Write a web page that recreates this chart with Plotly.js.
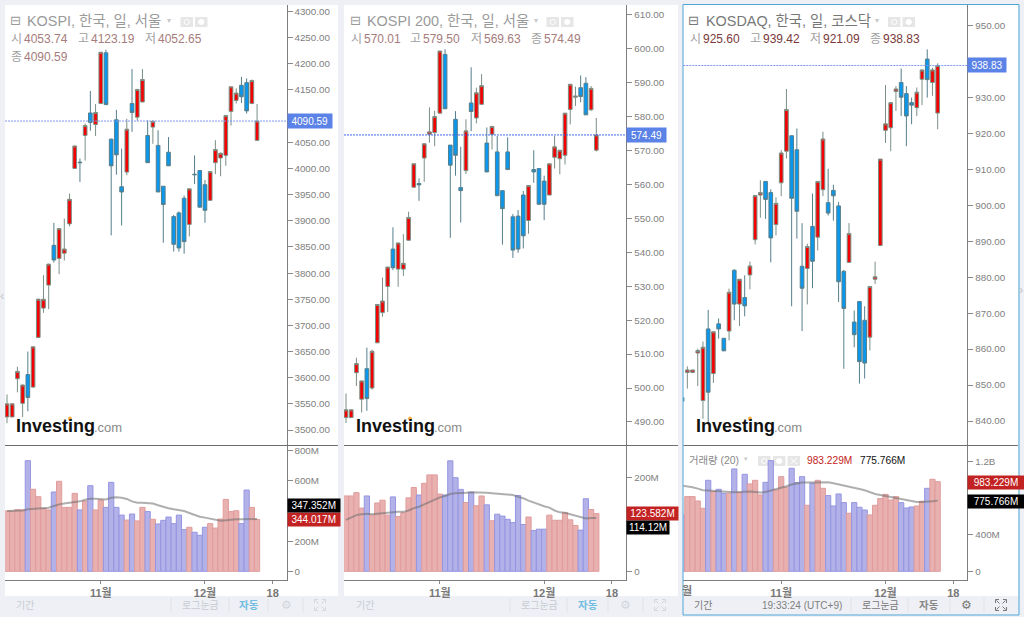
<!DOCTYPE html>
<html><head><meta charset="utf-8">
<script src="https://cdn.plot.ly/plotly-3.0.1.min.js"></script>
<style>html,body{margin:0;padding:0;background:#eef0f5;overflow:hidden}#c{width:1024px;height:617px}</style>
</head><body><div id="c"></div>
<script>
// ---------- KOSPI ----------
const kospiIdx = Array.from({length:49},(_,i)=>i+1);
const kospiOpen = [3525,3525,3598,3551,3606,3582,3677,3733,3777,3853,3828,3838,3894,4000,4012,4063,4106,4084,4124,4221,4056,4093,3965,3993,4124,4098,4127,4063,4079,4044,3966,4031,3908,3915,3943,3893,3989,3996,3969,3939,4011,4020,4025,4109,4130,4159,4164,4124,4053.74];
const kospiHigh = [3568,3551,3621,3587,3650,3660,3751,3796,3818,3896,3886,3904,3952,4043,4019,4086,4148,4123,4222,4227,4057,4112,4038,4095,4190,4152,4190,4092,4092,4073,3966,4060,3911,3918,3948,3961,4025,3997,3978,3994,4054,4030,4101,4156,4153,4175,4172,4170,4123.19];
const kospiLow = [3513,3525,3572,3525,3536,3581,3677,3724,3731,3820,3798,3824,3889,4000,3974,4015,4072,4062,4124,4122,3872,3988,3891,3987,4070,4091,4127,4011,4047,3955,3858,4005,3841,3841,3837,3870,3970,3925,3896,3939,3989,3985,4005,4082,4124,4125,4105,4123,4052.65];
const kospiClose = [3550,3550,3612,3586,3562,3659,3750,3750,3817,3825,3885,3846,3941,4043,4011,4082,4088,4107,4222,4122,4005,4026,3955,4075,4107,4151,4170,4011,4090,3955,3931,4005,3855,3848,3860,3961,3988,3926,3920,3994,4036,4029,4101,4156,4144,4137,4110,4168,4090.59];
const kospiVol = [400,400,409,407,734,544,495,418,407,526,597,424,424,517,407,466,568,407,473,424,590,424,373,340,380,334,424,396,345,314,338,360,316,373,276,292,259,239,292,316,287,347,477,396,402,316,539,424,344.017];
const kospiMA = [400,402,404,404,411,415,418,418,422,433,444,449,453,457,464,475,482,482,480,477,488,491,488,480,464,455,455,451,449,438,427,418,411,407,400,387,373,362,356,349,338,336,338,343,345,345,347,349,347.352];
// ---------- KOSPI 200 ----------
const k200Idx = Array.from({length:49},(_,i)=>i+1);
const k200Open = [491.3,491.3,504.5,496.7,505.7,500,513.3,522.2,529.9,540.9,535,535,543.5,559.1,560.2,567.7,574.7,575.2,580.9,598.2,571.5,579.1,559,564,583.9,579.5,583.5,572.1,574.7,569.5,558.1,569.5,550.4,550.6,556.8,549.3,564.3,564.6,560.9,556.8,567.9,567.5,568.5,582,585.6,588.4,589.7,581.9,570.01];
const k200High = [498.4,493.6,508.9,502.1,511.9,511.3,524.6,532.5,535.6,547.3,542.7,545.3,551.9,566,561.7,571.9,582.6,581.6,599.2,599.7,571.5,581.5,571,579.1,594.4,588.4,592.4,576.7,577.1,574.2,558.1,573.8,551.2,552.4,558,559.6,570,564.6,562.5,566,574.2,570,580.9,589.4,588.7,592,591.5,588.9,579.5];
const k200Low = [489.7,491.3,500.6,492.8,493.3,499.5,513.3,521,522.4,534.7,529.8,533,543.3,559.1,555.1,560.7,572.2,571.2,580.9,582.2,544.2,562.5,548.7,563,575.6,577.9,583.5,563.6,570.2,556.6,542.2,564.3,538.3,539.8,541.1,545.4,560.4,553.9,549.4,556.8,564.6,562.9,565.8,577.6,583,584.1,580.4,581.5,569.63];
const k200Close = [493.6,493.6,507.2,502.1,496.9,510.8,524.6,525.6,535.6,535.4,542.7,536.7,550.2,566,559.8,571.9,575.4,579.9,599.2,582.2,565.6,568.5,558.1,575.7,581.4,586.9,589,563.6,577,556.6,552.8,564.3,540.6,540.9,544.8,559.6,563.6,554.1,554.1,566,571,570,580.9,589.4,585.9,585.8,580.4,588.2,574.49];
const k200Vol = [161,161,168,135,161,120,146,152,120,159,117,125,157,179,163,188,206,206,165,163,236,200,175,147,169,140,161,142,108,122,118,111,104,162,100,116,87,90,90,120,109,109,125,110,98,88,155,132,123.582];
const k200MA = [110,115,120,122,123,122,123,125,125,126,127,127,130,135,138,143,148,154,158,161,165,167,167,168,169,169,169,168,167,166,165,164,163,159,156,151,147,142,139,136,130,126,125,122,119,115,113,114,114.12];
// ---------- KOSDAQ (includes the clipped session at the left edge) ----------
const kqIdx = Array.from({length:50},(_,i)=>i);
const kqOpen = [846.5,853.5,853.5,858.9,845.7,865.6,853.2,867,863,865,881.9,872.5,874.3,880.6,890.4,902.8,906.6,903.5,894.6,906.2,915,919.3,915.4,883,882.4,894.1,891.1,904.3,900.7,904.1,899.8,881.6,884.1,867.5,873.2,868,863.3,879.4,888.8,920.8,921.5,931.6,934.1,931,928.5,927.1,935,940.6,934.1,925.6];
const kqHigh = [846.6,855.2,854.2,860.1,862.1,870.9,864.8,868.5,863,876.8,882.2,879.4,880.5,884.3,902.7,906.9,906.6,904.4,902.2,915.3,932.3,919.3,921.3,895,889.3,903.2,906.6,920.4,910.1,905.7,900.9,882,895,870.7,873.2,871.9,877.4,884.3,912.8,933.4,928.5,933.1,938,933.1,929.9,932.7,937.1,943.3,938.2,939.42];
const kqLow = [845.4,849,853.5,849.7,840.6,839.3,850.6,862.9,859.5,862.4,868,866.4,869.1,876.6,889.1,896.5,896.2,884.1,891.6,902.5,913,871.9,890.7,865,872.4,876.9,887.4,902.5,897.1,895.7,873.1,854.5,884,860.5,850.4,851.8,859.6,878.1,888.6,917.3,915,926.2,924.8,916.4,922.5,924.8,927.8,929.9,930.4,921.09];
const kqClose = [845.5,854.2,854.2,859.6,860.5,848,864.8,865.6,859.5,875.8,872.5,879.4,872,883.1,902.7,903.5,901.6,890.9,900.5,914.5,926.6,901.9,898.3,876.9,888.5,884.4,906.6,918.4,897.8,902.6,878.7,871.3,892.1,864,856.5,856.1,877.4,880.1,912.8,922.6,928.5,932.3,930,924.8,927.8,931.4,937.6,934.9,937.6,938.83];
const kqVol = [619,820,820,772,692,999,875,900,856,856,1124,864,1065,959,999,838,977,1215,893,1039,922,1131,974,1039,725,966,999,911,831,717,849,754,637,754,703,673,619,725,798,845,783,820,754,695,706,717,769,911,1010,983.229];
const kqMA = [941,933,922,908,889,886,882,882,875,871,867,871,875,875,871,864,871,886,897,911,933,952,966,974,974,974,977,981,977,966,955,941,926,915,904,889,867,849,838,827,820,809,794,787,772,761,761,761,769,775.766];
// ---------- Text ----------
const titles = ['KOSPI, 한국, 일, 서울','KOSPI 200, 한국, 일, 서울','KOSDAQ, 한국, 일, 코스닥'];
const legendLabels = ['시','고','저','종'];
const legendK = ['4053.74','4123.19','4052.65','4090.59'];
const legendK200 = ['570.01','579.50','569.63','574.49'];
const legendKq = ['925.60','939.42','921.09','938.83'];
const dateTickVals = [19,39,52];
const dateTickText = ['11월','12월','18'];

const W=1024,H=617, px=x=>x/W, py=y=>1-y/H;
const FONT='"Liberation Sans","Noto Sans CJK KR",sans-serif';
const panels=[
 {ox:0,l:5,r:286.5,pr:338,idx:kospiIdx,o:kospiOpen,h:kospiHigh,lo:kospiLow,c:kospiClose,v:kospiVol,m:kospiMA,
  xr:[0.616,54.65],yr:[3470.4,4312.4],dt:50,vr:[-57.7,834.5],vt:[0,200,400,600,800],vl:['0','200M','','600M','800M'],
  lc:'#7f98f2',ld:'2px,1px',lcenter:121,vred:'344.017M',vblk:'347.352M',yred:519.5,yblk:505.5,lw:43.5,rw:51.5,kw:51.5,
  leg:legendK,legx:[[10,23],[77,90],[144,157],[10,23]],legy:[39,39,39,57],vc:'#a67c7c',tc:'#9a9a9a',
  iconx:180.5,dropx:166,bot:{g:25,l:200,a:249,s:286,e:320,seps:[171,229,268,303]}},
 {ox:340,l:344,r:626.3,pr:678,idx:k200Idx,o:k200Open,h:k200High,lo:k200Low,c:k200Close,v:k200Vol,m:k200MA,
  xr:[0.616,54.75],yr:[483.08,612.74],dt:10,vr:[-18.6,268.8],vt:[0,200],vl:['0','200M'],
  lc:'#3f66e8',ld:'2px,1px',lcenter:135,vred:'123.582M',vblk:'114.12M',yred:513.5,yblk:527,lw:39,rw:51,kw:42,
  leg:legendK200,legx:[[350,363],[409,422],[470,483],[530,543]],legy:[39,39,39,39],vc:'#a67c7c',tc:'#9a9a9a',
  iconx:546.5,dropx:533,bot:{g:365,l:539,a:588,s:625,e:660,seps:[510,567,608,643]}},
 {ox:680,l:683.3,r:967.3,pr:1018,idx:kqIdx,o:kqOpen,h:kqHigh,lo:kqLow,c:kqClose,v:kqVol,m:kqMA,
  xr:[0.227,54.68],yr:[833.19,955.64],dt:10,vr:[-95.5,1381],vt:[0,400,800,1200],vl:['0','400M','','1.2B'],
  lc:'#7f98f2',ld:'2px,1px',lcenter:65.5,vred:'983.229M',vblk:'775.766M',yred:482.7,yblk:501,lw:38,rw:56,kw:56,
  leg:legendKq,legx:[[689,702],[749,762],[809,822],[869,882]],legy:[39,39,39,39],vc:'#7a3a3a',tc:'#777',
  iconx:888,dropx:874,bot:{g:703,l:880,a:929,s:966,e:1001,seps:[851,908,950,984],active:true}}
];
const data=[],shapes=[],ann=[],layout={};
function T(x,y,text,o){ann.push(Object.assign({xref:'paper',yref:'paper',x:px(x),y:py(y),text,showarrow:false,xanchor:'left',yanchor:'middle',
  font:{family:FONT,size:12,color:'#999'},borderpad:0},o||{}));}
function R(x0,y0,x1,y1,o){shapes.push(Object.assign({type:'rect',xref:'paper',yref:'paper',x0:px(x0),x1:px(x1),y0:py(y0),y1:py(y1),line:{width:0},layer:'below'},o||{}));}
function L(x0,y0,x1,y1,c,w,layer){shapes.push({type:'line',xref:'paper',yref:'paper',x0:px(x0),x1:px(x1),y0:py(y0),y1:py(y1),line:{color:c,width:w||1},layer:layer||'above'});}

panels.forEach((p,i)=>{
  const n1=2*i+1,n2=2*i+2, xa=n=>n==1?'x':'x'+n, ya=n=>n==1?'y':'y'+n, ka=(s,n)=>n==1?s:s+n;
  const dom=[px(p.l),px(p.r)];
  R(p.l,5,p.pr,596,{fillcolor:'#ffffff'});
  data.push({type:'candlestick',x:p.idx,open:p.o,high:p.h,low:p.lo,close:p.c,xaxis:xa(n1),yaxis:ya(n1),whiskerwidth:0,
    increasing:{fillcolor:'#f40000',line:{color:'#7b8f84',width:1}},
    decreasing:{fillcolor:'#0a98ee',line:{color:'#557f8c',width:1}},hoverinfo:'skip',showlegend:false});
  data.push({type:'bar',x:p.idx,y:p.v,xaxis:xa(n2),yaxis:ya(n2),width:1,
    marker:{color:p.idx.map((_,k)=>p.c[k]>=p.o[k]?'#e9b0b0':'#b3b2e8'),line:{width:1,color:p.idx.map((_,k)=>p.c[k]>=p.o[k]?'#e09c9c':'#9595e2')}},hoverinfo:'skip',showlegend:false});
  data.push({type:'scatter',mode:'lines',x:p.idx,y:p.m,xaxis:xa(n2),yaxis:ya(n2),line:{color:'rgba(110,110,110,0.55)',width:2},hoverinfo:'skip',showlegend:false});
  layout[ka('xaxis',n1)]={domain:dom,range:p.xr,anchor:ya(n1),visible:false,rangeslider:{visible:false},fixedrange:true};
  layout[ka('yaxis',n1)]={domain:[py(445.5),py(5)],range:p.yr,anchor:xa(n1),side:'right',dtick:p.dt,tick0:0,tickformat:'.2f',ticks:'outside',ticklen:5,tickcolor:'#8a8a8a',
    showgrid:false,zeroline:false,showline:true,linecolor:'#7d7d7d',linewidth:1,tickfont:{family:FONT,size:9.8,color:'#808080'},fixedrange:true};
  layout[ka('xaxis',n2)]={domain:dom,range:p.xr,anchor:ya(n2),tickmode:'array',tickvals:dateTickVals,ticktext:dateTickText.map(s=>'<b>'+s+'</b>'),ticks:'outside',ticklen:3,tickcolor:'#8a8a8a',
    showgrid:false,zeroline:false,showline:true,linecolor:'#7d7d7d',linewidth:1,tickfont:{family:FONT,size:11,color:'#777'},fixedrange:true};
  layout[ka('yaxis',n2)]={domain:[py(580),py(445.5)],range:p.vr,anchor:xa(n2),side:'right',tickmode:'array',tickvals:p.vt,ticktext:p.vl,ticks:'outside',ticklen:5,tickcolor:'#8a8a8a',
    showgrid:false,zeroline:false,showline:true,linecolor:'#7d7d7d',linewidth:1,tickfont:{family:FONT,size:9.8,color:'#808080'},fixedrange:true};
  // separator, last-price line and labels
  L(p.l,445.5,p.pr,445.5,'#6d6d6d',1);
  const lastC=p.c[p.c.length-1];
  shapes.push({type:'line',xref:'paper',yref:ya(n1),x0:px(p.l),x1:px(p.r),y0:lastC,y1:lastC,line:{color:p.lc,width:1,dash:p.ld}});
  ann.push({xref:'paper',yref:ya(n1),x:px(p.r),y:lastC,xanchor:'left',yanchor:'middle',showarrow:false,text:lastC.toFixed(2),
    font:{family:FONT,size:10,color:'#fff'},bgcolor:'#5b82e6',width:p.lw,height:14,borderpad:0,align:'center'});
  T(p.r,p.yred,p.vred,{font:{family:FONT,size:10,color:'#fff'},bgcolor:'#c32222',width:p.rw,height:13,align:'center'});
  T(p.r,p.yblk,p.vblk,{font:{family:FONT,size:10,color:'#fff'},bgcolor:'#000',width:p.kw,height:13,align:'center'});
  // header
  T(p.ox+ (i==2?7:9),21,'⊟',{font:{family:'DejaVu Sans',size:13,color:p.tc}});
  T(p.ox+ (i==2?24.5:25.5),21,titles[i],{font:{family:FONT,size:14.4,color:p.tc}});
  T(p.dropx,20,'▾',{font:{family:'DejaVu Sans',size:8,color:'#c8c8c8'}});
  [0,14.5].forEach((d,k)=>{
    R(p.iconx+d,17,p.iconx+d+12.5,27,{fillcolor:'#e6e6e6'});
    shapes.push({type:'circle',xref:'paper',yref:'paper',x0:px(p.iconx+d+3.5),x1:px(p.iconx+d+9),y0:py(19.5),y1:py(24.5),line:{color:'#fff',width:1},fillcolor:k?'#fff':'rgba(0,0,0,0)',layer:'below'});
  });
  p.leg.forEach((v,k)=>{
    T(p.legx[k][0],p.legy[k],legendLabels[k],{font:{family:FONT,size:12,color:'#a0a0a0'}});
    T(p.legx[k][1],p.legy[k],v,{font:{family:FONT,size:12,color:p.vc}});
  });
  // logo
  T(p.ox+15,426,'<b>Investing</b>',{font:{family:FONT,size:18,color:'#111'}});
  T(p.ox+92.5,427,'.com',{font:{family:FONT,size:13,color:'#8a8a8a'}});
  shapes.push({type:'circle',xref:'paper',yref:'paper',x0:px(p.ox+68),x1:px(p.ox+72),y0:py(416.5),y1:py(420.5),fillcolor:'#f6b04a',line:{width:0}});
  // footer
  const b=p.bot, fc=b.active?'#777':'#c8ccd2';
  T(b.g,605,'기간',{xanchor:'center',font:{family:FONT,size:10,color:fc}});
  T(b.l,605,'로그눈금',{xanchor:'center',font:{family:FONT,size:10,color:b.active?'#777':'#c8ccd2'}});
  T(b.a,605,'<b>자동</b>',{xanchor:'center',font:{family:FONT,size:10.5,color:b.active?'#888':'#72bde0'}});
  T(b.s,605,'⚙',{xanchor:'center',font:{family:'DejaVu Sans',size:12,color:b.active?'#777':'#d4d7dc'}});
  const e=b.e, ec=b.active?'#777':'#d4d7dc';
  [[-1,-1],[1,-1],[-1,1],[1,1]].forEach(([sx,sy])=>{
    L(e+sx*5.5,605+sy*5.5,e+sx*2,605+sy*5.5,ec,1);
    L(e+sx*5.5,605+sy*5.5,e+sx*5.5,605+sy*2,ec,1);
    L(e+sx*4.5,605+sy*4.5,e+sx*1.5,605+sy*1.5,ec,1);
  });
  b.seps.forEach(x=>L(x,598,x,612,'#dfe2e7',1));
});
// KOSDAQ pane extras
T(688,460,'거래량 (20)',{font:{family:FONT,size:10.4,color:'#888'}});
T(743,459,'▾',{font:{family:'DejaVu Sans',size:7,color:'#c8c8c8'}});
[758,773,787.5].forEach((x,k)=>{
  R(x,456,x+12.5,466,{fillcolor:'#e6e6e6'});
  if(k<2)shapes.push({type:'circle',xref:'paper',yref:'paper',x0:px(x+3.5),x1:px(x+9),y0:py(458.5),y1:py(463.5),line:{color:'#fff',width:1},fillcolor:k?'#fff':'rgba(0,0,0,0)',layer:'below'});
  else{L(x+3,458,x+9.5,464,'#fff',1);L(x+9.5,458,x+3,464,'#fff',1);}
});
T(806,460,'983.229M',{font:{family:FONT,size:10.2,color:'#c32222'}});
T(859,460,'775.766M',{font:{family:FONT,size:10.2,color:'#111'}});
T(686.7,590,'<b>월</b>',{xanchor:'center',font:{family:FONT,size:11,color:'#777'}});
T(802,605,'19:33:24 (UTC+9)',{xanchor:'center',font:{family:FONT,size:10,color:'#808080'}});
R(683,4.5,1019,615,{fillcolor:'rgba(0,0,0,0)',line:{color:'#4ea6d8',width:1},layer:'above'});
// small handles on the page edges
T(2,295,'‹',{xanchor:'center',font:{family:FONT,size:13,color:'#c8c8c8'}});
T(1021,289,'›',{xanchor:'center',font:{family:FONT,size:13,color:'#c8c8c8'}});
Object.assign(layout,{width:W,height:H,margin:{l:0,r:0,t:0,b:0,pad:0},paper_bgcolor:'#eef0f5',plot_bgcolor:'rgba(0,0,0,0)',showlegend:false,
  boxgap:0,bargap:0,shapes,annotations:ann,font:{family:FONT},hovermode:false,dragmode:false});
Plotly.newPlot('c',data,layout,{staticPlot:true,displayModeBar:false});
</script></body></html>
